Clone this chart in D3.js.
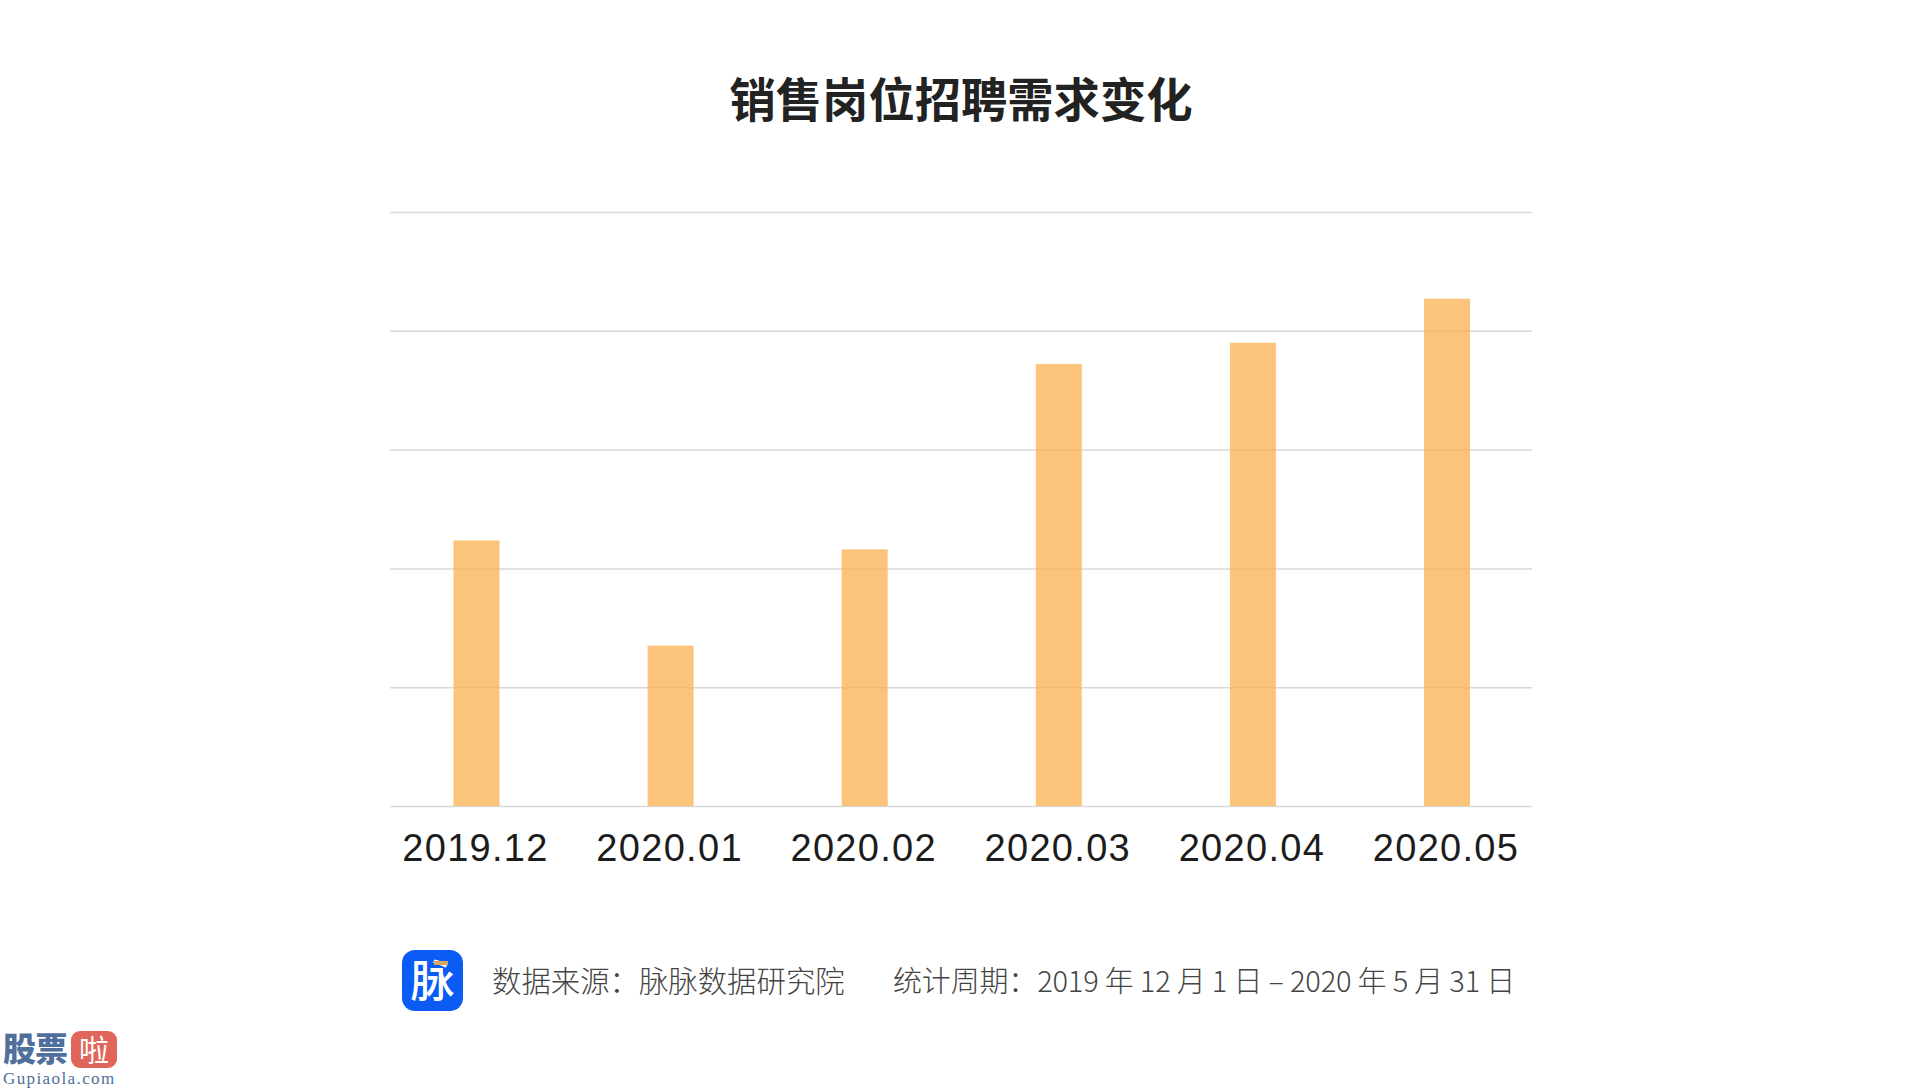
<!DOCTYPE html>
<html>
<head>
<meta charset="utf-8">
<title>销售岗位招聘需求变化</title>
<script src="https://cdnjs.cloudflare.com/ajax/libs/d3/7.8.5/d3.min.js"></script>
<style>
    html, body { margin: 0; padding: 0; background: #fff; }
    svg { display: block; }
    .cn { font-family: "Noto Sans CJK SC", sans-serif; }
</style>
</head>
<body>
<div id="chart"></div>
<script>
'use strict';

var months = ['2019.12', '2020.01', '2020.02', '2020.03', '2020.04', '2020.05'];
var demand = [2.235, 1.35, 2.16, 3.72, 3.90, 4.27];
var gridTicks = [0, 1, 2, 3, 4, 5];

var chartTitle = '销售岗位招聘需求变化';
var sourceText = '数据来源\uFF1A脉脉数据研究院';
var periodText = '统计周期\uFF1A2019 年 12 月 1 日 – 2020 年 5 月 31 日';

var width = 1921, height = 1088;

var svg = d3.select('#chart').append('svg')
    .attr('width', width)
    .attr('height', height);

var x = d3.scalePoint().domain(months).range([476.5, 1447]);
var y = d3.scaleLinear().domain([0, 5]).range([806, 212]);

// gridlines
var grid = svg.append('g')
    .attr('transform', 'translate(390,0)')
    .call(d3.axisLeft(y).tickValues(gridTicks).tickSize(-1142).tickFormat(''));
grid.select('.domain').remove();
grid.selectAll('line').attr('stroke', '#d9d9d9').attr('stroke-width', 1.5);

// bars
svg.selectAll('.bar').data(demand).enter()
    .append('rect')
    .attr('class', 'bar')
    .attr('x', function (d, i) { return x(months[i]) - 23; })
    .attr('y', function (d) { return y(d); })
    .attr('width', 46)
    .attr('height', function (d) { return y(0) - y(d); })
    .style('fill', '#fbb04f')
    .style('opacity', 0.75);

// month labels
var xAxis = svg.append('g')
    .attr('transform', 'translate(-1.5,806)')
    .call(d3.axisBottom(x).tickSize(0).tickPadding(28));
xAxis.select('.domain').remove();
xAxis.selectAll('text')
    .style('font-family', '"Liberation Sans", sans-serif')
    .style('font-size', '38px')
    .style('letter-spacing', '1.3px')
    .style('fill', '#1c1c1c');

svg.append('text')
    .attr('class', 'cn')
    .attr('x', 961)
    .attr('y', 117)
    .attr('text-anchor', 'middle')
    .style('font-size', '46.3px')
    .style('font-weight', 700)
    .style('fill', '#222')
    .text(chartTitle);

// footer logo
var logo = svg.append('g').attr('transform', 'translate(402,950)');
logo.append('rect')
    .attr('width', 61)
    .attr('height', 61)
    .attr('rx', 13)
    .style('fill', '#0a5cf5');
logo.append('text')
    .attr('class', 'cn')
    .attr('x', 30.5)
    .attr('y', 47)
    .attr('text-anchor', 'middle')
    .style('font-size', '44px')
    .style('font-weight', 500)
    .style('fill', '#fff')
    .text('脉');
logo.append('rect')
    .attr('x', 32)
    .attr('y', 11)
    .attr('width', 14)
    .attr('height', 4)
    .style('fill', '#d9a860');

svg.append('text')
    .attr('class', 'cn')
    .attr('x', 492)
    .attr('y', 992)
    .style('font-size', '29.4px')
    .style('font-weight', 300)
    .style('fill', '#444')
    .text(sourceText);

svg.append('text')
    .attr('class', 'cn')
    .attr('x', 893)
    .attr('y', 992)
    .style('font-size', '29px')
    .style('font-weight', 300)
    .style('letter-spacing', '-0.17px')
    .style('fill', '#444')
    .text(periodText);

// watermark
var mark = svg.append('g').attr('transform', 'translate(3,1030)');
mark.append('text')
    .attr('class', 'cn')
    .attr('x', 0)
    .attr('y', 31)
    .style('font-size', '33px')
    .style('font-weight', 900)
    .style('letter-spacing', '-1px')
    .style('fill', '#4f6f9c')
    .text('股票');
mark.append('rect')
    .attr('x', 68)
    .attr('y', 1)
    .attr('width', 46)
    .attr('height', 37)
    .attr('rx', 9)
    .style('fill', '#e0655a');
mark.append('text')
    .attr('class', 'cn')
    .attr('x', 91)
    .attr('y', 31)
    .attr('text-anchor', 'middle')
    .style('font-size', '30px')
    .style('fill', '#fff')
    .text('啦');
mark.append('text')
    .attr('x', 0)
    .attr('y', 54)
    .style('font-family', '"Liberation Serif", serif')
    .style('font-size', '17px')
    .style('letter-spacing', '1.4px')
    .style('fill', '#4f6f9c')
    .text('Gupiaola.com');
</script>
</body>
</html>
